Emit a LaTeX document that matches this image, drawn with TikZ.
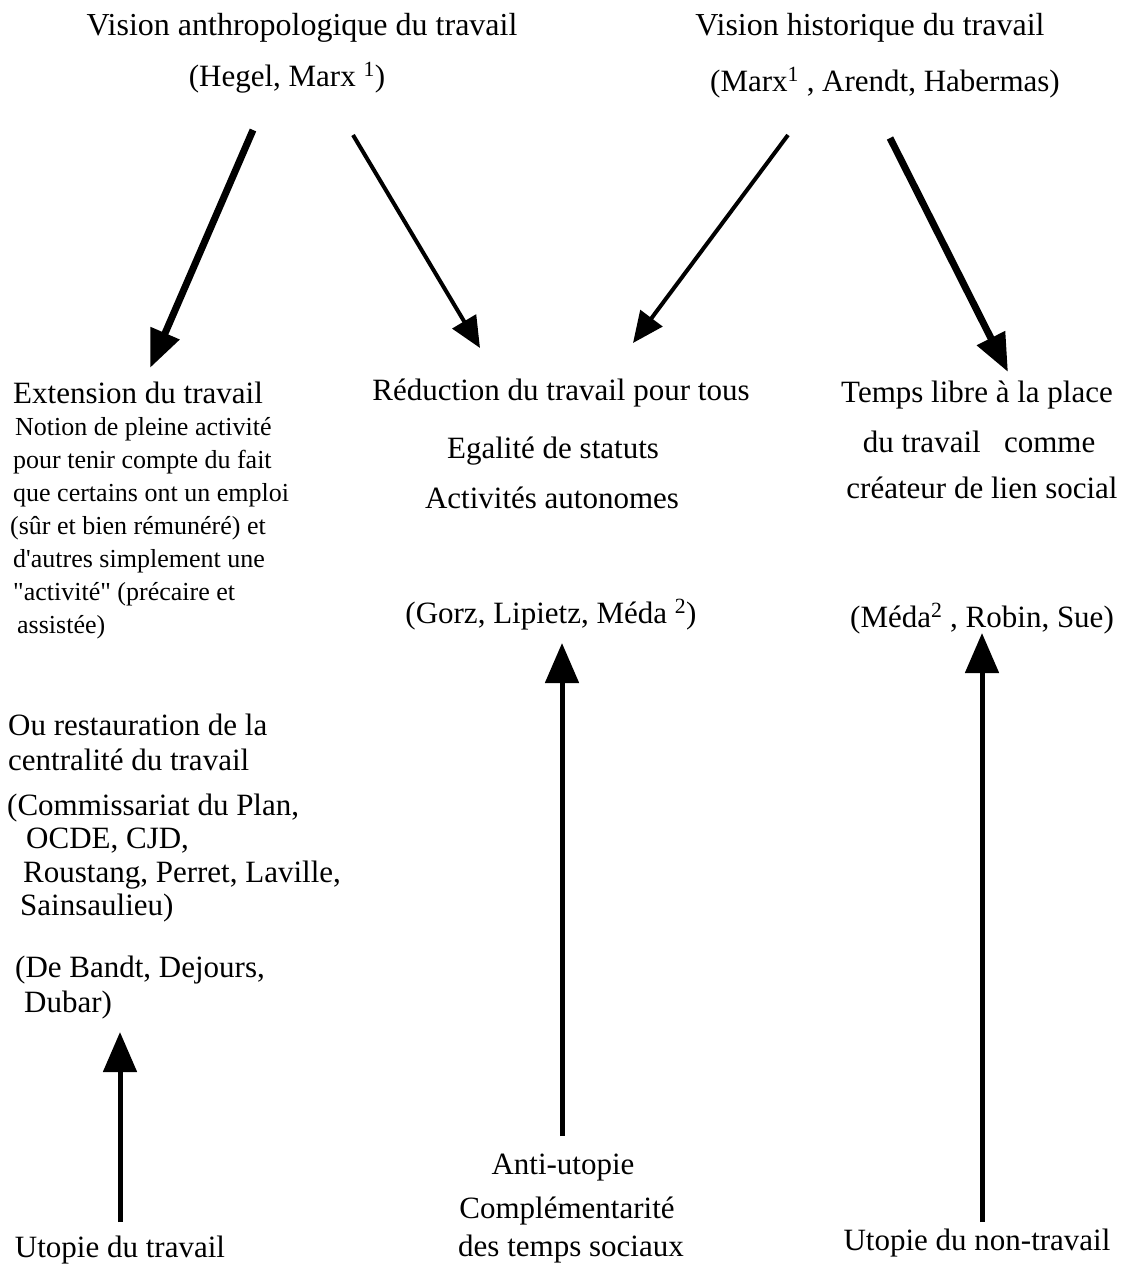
\documentclass[tikz,border=0pt]{standalone}
\usepackage{fontspec}
\setmainfont{Liberation Serif}[Ligatures=TeXOff]
\usetikzlibrary{arrows.meta}
\begin{document}
\begin{tikzpicture}[x=1pt,y=-1pt,
  txt/.style={inner sep=0pt, font=\fontsize{31}{37}\selectfont, anchor=base},
  txtl/.style={inner sep=0pt, font=\fontsize{31}{37}\selectfont, anchor=base west},
  ttl/.style={inner sep=0pt, font=\fontsize{32}{38}\selectfont, anchor=base},
  small/.style={inner sep=0pt, font=\fontsize{26}{31}\selectfont, anchor=base west},
  thickarr/.style={line width=7pt, -{Triangle[length=38pt,width=30pt]}},
  thinarr/.style={line width=4pt, -{Triangle[length=31pt,width=27pt]}},
  uparr/.style={line width=5pt, -{Triangle[length=40pt,width=33pt]}},
]
\useasboundingbox (0,0) rectangle (1123,1264);
% titles
\node[ttl] (t1) at (302,35) {Vision anthropologique du travail};
\node[txt] (a1) at (287,86) {(Hegel, Marx \textsuperscript{1})};
\node[ttl] (t2) at (870,35) {Vision historique du travail};
\node[txt] (a2) at (885,91) {(Marx\textsuperscript{1} , Arendt, Habermas)};
% left column
\node[txtl] (ext) at (13,403) {Extension du travail};
\node[small] (n1) at (15,435) {Notion de pleine activité};
\node[small] (n2) at (13,468) {pour tenir compte du fait};
\node[small] (n3) at (13,501) {que certains ont un emploi};
\node[small] (n4) at (10,534) {(sûr et bien rémunéré) et};
\node[small] (n5) at (13,567) {d'autres simplement une};
\node[small] (n6) at (13,600) {"activité" (précaire et};
\node[small] (n7) at (17,633) {assistée)};
\node[txtl] (ou1) at (8,735) {Ou restauration de la};
\node[txtl] (ou2) at (8,770) {centralité du travail};
\node[txtl] (c1) at (7,815) {(Commissariat du Plan,};
\node[txtl] (c2) at (26,848) {OCDE, CJD,};
\node[txtl] (c3) at (23,882) {Roustang, Perret, Laville,};
\node[txtl] (c4) at (20,915) {Sainsaulieu)};
\node[txtl] (d1) at (15,977) {(De Bandt, Dejours,};
\node[txtl] (d2) at (24,1012) {Dubar)};
% middle column
\node[txt] (r1) at (561,400) {Réduction du travail pour tous};
\node[txt] (r2) at (553,458) {Egalité de statuts};
\node[txt] (r3) at (552,508) {Activités autonomes};
\node[txt] (r4) at (551,623) {(Gorz, Lipietz, Méda \textsuperscript{2})};
% right column
\node[txt] (l1) at (977,402) {Temps libre à la place};
\node[txt] (l2) at (979,452) {du travail\ \ \ comme};
\node[txt] (l3) at (982,498) {créateur de lien social};
\node[txt] (l4) at (982,627) {(Méda\textsuperscript{2} , Robin, Sue)};
% bottom
\node[txt] (u1) at (120,1257) {Utopie du travail};
\node[txt] (m1) at (563,1174) {Anti-utopie};
\node[txt] (m2) at (567,1218) {Complémentarité};
\node[txt] (m3) at (571,1256) {des temps sociaux};
\node[txt] (u3) at (977,1250) {Utopie du non-travail};
% arrow end points
\coordinate (s1) at (253,130); \coordinate (e1) at (150,368);
\coordinate (s2) at (353,135); \coordinate (e2) at (480,348);
\coordinate (s3) at (788,135); \coordinate (e3) at (633,343);
\coordinate (s4) at (890,138); \coordinate (e4) at (1008,372);
\coordinate (v1s) at (120,1222); \coordinate (v1e) at (120,1032);
\coordinate (v2s) at (562,1136); \coordinate (v2e) at (562,643);
\coordinate (v3s) at (982,1222); \coordinate (v3e) at (982,633);
\draw[thickarr] (s1) -- (e1);
\draw[thinarr] (s2) -- (e2);
\draw[thinarr] (s3) -- (e3);
\draw[thickarr] (s4) -- (e4);
\draw[uparr] (v1s) -- (v1e);
\draw[uparr] (v2s) -- (v2e);
\draw[uparr] (v3s) -- (v3e);
\end{tikzpicture}
\end{document}
